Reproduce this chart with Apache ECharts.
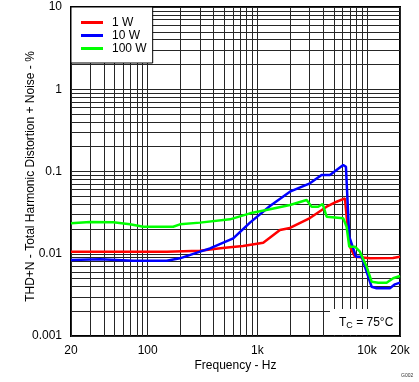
<!DOCTYPE html>
<html>
<head>
<meta charset="utf-8">
<script src="https://cdn.jsdelivr.net/npm/echarts@6/dist/echarts.min.js"></script>
<style>
html,body{margin:0;padding:0;background:#fff;}
#c{width:419px;height:382px;}
</style>
</head>
<body>
<div id="c"></div>
<script>
// ---- data ----
const seriesNames = ['1 W', '10 W', '100 W'];
const red1wFreq = [20, 150, 300, 460, 563, 740, 1132, 1608, 1983, 3017, 4285, 5285, 6295, 6518, 6985, 7761, 10640, 17230, 20000];
const red1wThd  = [0.0106, 0.0106, 0.0109, 0.0117, 0.0120, 0.0124, 0.0136, 0.0194, 0.0206, 0.0272, 0.0373, 0.0429, 0.0472, 0.0282, 0.0122, 0.0092, 0.0088, 0.0089, 0.0092];
const blue10wFreq = [20, 36.8, 74, 149, 197, 300, 370, 603, 857, 1304, 1983, 3017, 3857, 4592, 6071, 6427, 6890, 7490, 7925, 8934, 11020, 12240, 16180, 17980, 20000];
const blue10wThd  = [0.0084, 0.0086, 0.0082, 0.0082, 0.0088, 0.0106, 0.0116, 0.0154, 0.0239, 0.0381, 0.0568, 0.0719, 0.0906, 0.0906, 0.120, 0.114, 0.0161, 0.0116, 0.0092, 0.0092, 0.00397, 0.0038, 0.0038, 0.00425, 0.00445];
const green100wFreq = [20, 29.8, 48.6, 69, 91.2, 171, 197, 300, 563, 857, 1304, 1983, 2816, 3127, 3593, 3940, 4285, 6071, 6518, 6890, 7761, 8615, 9925, 11020, 12650, 15100, 17340, 20000];
const green100wThd  = [0.0235, 0.0243, 0.0242, 0.0228, 0.0213, 0.0213, 0.0228, 0.0239, 0.0262, 0.0310, 0.0347, 0.0392, 0.0450, 0.0373, 0.0373, 0.0403, 0.0282, 0.0270, 0.0213, 0.0122, 0.0122, 0.0106, 0.00696, 0.00457, 0.00445, 0.00445, 0.00503, 0.00536];

const xGridValues = [20,30,40,50,60,70,80,90,100,200,300,400,500,600,700,800,900,1000,2000,3000,4000,5000,6000,7000,8000,9000,10000,20000];
const yGridValues = [0.001,0.002,0.003,0.004,0.005,0.006,0.007,0.008,0.009,0.01,0.02,0.03,0.04,0.05,0.06,0.07,0.08,0.09,0.1,0.2,0.3,0.4,0.5,0.6,0.7,0.8,0.9,1,2,3,4,5,6,7,8,9,10];
const xLabelValues = [20, 100, 1000, 10000, 20000];
const xLabelTexts = ['20', '100', '1k', '10k', '20k'];
const yLabelValues = [0.001, 0.01, 0.1, 1, 10];
const yLabelTexts = ['0.001', '0.01', '0.1', '1', '10'];

function zip(a, b) { return a.map((v, i) => [v, b[i]]); }

const FONT = 'Liberation Sans, Arial, sans-serif';
const chart = echarts.init(document.getElementById('c'), null, {renderer: 'canvas'});
chart.setOption({
  animation: false,
  backgroundColor: '#fff',
  textStyle: {fontFamily: FONT},
  grid: {left: 71, right: 19, top: 7, bottom: 46, show: true, borderColor: '#000', borderWidth: 2, backgroundColor: 'transparent'},
  legend: {
    left: 71, top: 7, orient: 'vertical',
    backgroundColor: '#fff', borderColor: '#000', borderWidth: 1,
    padding: [9, 6, 8, 10], itemGap: 0,
    icon: 'rect', itemWidth: 22, itemHeight: 3,
    textStyle: {fontFamily: FONT, fontSize: 12, color: '#000', lineHeight: 13, padding: [0, 0, 0, 4]},
    data: seriesNames
  },
  xAxis: {
    type: 'log', logBase: 10, min: 20, max: 20000,
    name: 'Frequency - Hz', nameLocation: 'middle', nameGap: 24, nameMoveOverlap: false,
    nameTextStyle: {fontFamily: FONT, fontSize: 12, color: '#000'},
    axisLine: {show: false},
    axisTick: {show: false, customValues: xGridValues},
    axisLabel: {customValues: xLabelValues, margin: 9, fontFamily: FONT, fontSize: 12, color: '#000',
      formatter: v => xLabelTexts[xLabelValues.findIndex(x => Math.abs(x - v) / x < 1e-6)] || ''},
    splitLine: {show: true, lineStyle: {color: '#262626', width: 1}},
    minorSplitLine: {show: false}
  },
  yAxis: {
    type: 'log', logBase: 10, min: 0.001, max: 10,
    name: 'THD+N - Total Harmonic Distortion + Noise - %', nameLocation: 'middle', nameGap: 34, nameMoveOverlap: false,
    nameTextStyle: {fontFamily: FONT, fontSize: 12, color: '#000', padding: [0, 10, 0, 0]},
    axisLine: {show: false},
    axisTick: {show: false, customValues: yGridValues},
    axisLabel: {customValues: yLabelValues, margin: 9, fontFamily: FONT, fontSize: 12, color: '#000',
      formatter: v => yLabelTexts[yLabelValues.findIndex(y => Math.abs(y - v) / y < 1e-6)] || ''},
    splitLine: {show: true, lineStyle: {color: '#262626', width: 1}},
    minorSplitLine: {show: false}
  },
  series: [
    {name: seriesNames[0], type: 'line', data: zip(red1wFreq, red1wThd), showSymbol: false, color: '#ff0000', lineStyle: {width: 2.5, color: '#ff0000'}, z: 3},
    {name: seriesNames[1], type: 'line', data: zip(blue10wFreq, blue10wThd), showSymbol: false, color: '#0000ff', lineStyle: {width: 2.5, color: '#0000ff'}, z: 3},
    {name: seriesNames[2], type: 'line', data: zip(green100wFreq, green100wThd), showSymbol: false, color: '#00ff00', lineStyle: {width: 2.5, color: '#00ff00'}, z: 4}
  ],
  graphic: [
    {type: 'rect', shape: {x: 330, y: 309, width: 69, height: 26}, style: {fill: '#fff'}, z: 1},
    {type: 'text', x: 339, y: 316, z: 2, style: {
      text: '{a|T}{b|C}{a| = 75°C}',
      rich: {
        a: {fontFamily: FONT, fontSize: 12, fill: '#000', lineHeight: 14},
        b: {fontFamily: FONT, fontSize: 9, fill: '#000', lineHeight: 14, padding: [6, 0, 0, 0]}
      }
    }},
    {type: 'text', x: 401, y: 373, z: 2, style: {text: 'G002', fontFamily: FONT, fontSize: 5, fill: '#333'}}
  ]
});
</script>
</body>
</html>
